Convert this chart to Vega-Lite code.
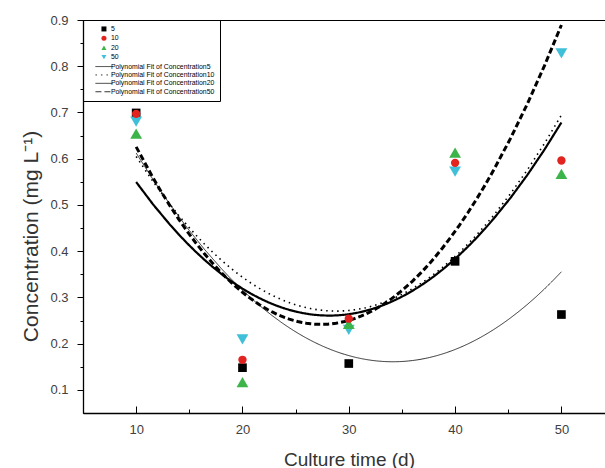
{
  "$schema": "https://vega.github.io/schema/vega-lite/v6.json",
  "width": 522,
  "height": 393,
  "autosize": {"type": "none"},
  "padding": {"left": 83, "top": 20, "right": 0, "bottom": 55},
  "background": "white",
  "config": {"view": {"stroke": "#000", "strokeWidth": 1}, "font": "Liberation Sans"},
  "data": {
    "values": [
      {"t": 10, "series": "5", "fit": "Polynomial Fit of Concentration5", "conc": 0.699},
      {"t": 20, "series": "5", "fit": "Polynomial Fit of Concentration5", "conc": 0.148},
      {"t": 30, "series": "5", "fit": "Polynomial Fit of Concentration5", "conc": 0.157},
      {"t": 40, "series": "5", "fit": "Polynomial Fit of Concentration5", "conc": 0.378},
      {"t": 50, "series": "5", "fit": "Polynomial Fit of Concentration5", "conc": 0.263},
      {"t": 10, "series": "50", "fit": "Polynomial Fit of Concentration50", "conc": 0.68},
      {"t": 20, "series": "50", "fit": "Polynomial Fit of Concentration50", "conc": 0.209},
      {"t": 30, "series": "50", "fit": "Polynomial Fit of Concentration50", "conc": 0.23},
      {"t": 40, "series": "50", "fit": "Polynomial Fit of Concentration50", "conc": 0.572},
      {"t": 50, "series": "50", "fit": "Polynomial Fit of Concentration50", "conc": 0.828},
      {"t": 10, "series": "20", "fit": "Polynomial Fit of Concentration20", "conc": 0.654},
      {"t": 20, "series": "20", "fit": "Polynomial Fit of Concentration20", "conc": 0.117},
      {"t": 30, "series": "20", "fit": "Polynomial Fit of Concentration20", "conc": 0.243},
      {"t": 40, "series": "20", "fit": "Polynomial Fit of Concentration20", "conc": 0.613},
      {"t": 50, "series": "20", "fit": "Polynomial Fit of Concentration20", "conc": 0.567},
      {"t": 10, "series": "10", "fit": "Polynomial Fit of Concentration10", "conc": 0.697},
      {"t": 20, "series": "10", "fit": "Polynomial Fit of Concentration10", "conc": 0.165},
      {"t": 30, "series": "10", "fit": "Polynomial Fit of Concentration10", "conc": 0.254},
      {"t": 40, "series": "10", "fit": "Polynomial Fit of Concentration10", "conc": 0.591},
      {"t": 50, "series": "10", "fit": "Polynomial Fit of Concentration10", "conc": 0.596}
    ]
  },
  "layer": [
    {
      "transform": [
        {"regression": "conc", "on": "t", "groupby": ["fit"], "method": "poly", "order": 2, "extent": [10, 50]}
      ],
      "mark": {"type": "line", "color": "black", "clip": true},
      "encoding": {
        "x": {
          "field": "t", "type": "quantitative",
          "scale": {"domain": [5, 54.1], "nice": false, "zero": false},
          "axis": null
        },
        "y": {
          "field": "conc", "type": "quantitative",
          "scale": {"domain": [0.05, 0.9], "nice": false, "zero": false},
          "axis": null
        },
        "strokeDash": {
          "field": "fit", "type": "nominal",
          "scale": {
            "domain": ["5", "10", "20", "50", "Polynomial Fit of Concentration5", "Polynomial Fit of Concentration10", "Polynomial Fit of Concentration20", "Polynomial Fit of Concentration50"],
            "range": [[0, 20], [0, 20], [0, 20], [0, 20], [1, 0], [1.5, 4], [1, 0], [6, 3]]
          }
        },
        "strokeWidth": {
          "field": "fit", "type": "nominal",
          "scale": {
            "type": "ordinal",
            "domain": ["Polynomial Fit of Concentration5", "Polynomial Fit of Concentration10", "Polynomial Fit of Concentration20", "Polynomial Fit of Concentration50"],
            "range": [0.8, 1.6, 2.2, 3]
          },
          "legend": null
        }
      }
    },
    {
      "mark": {"type": "point", "filled": true, "opacity": 1},
      "encoding": {
        "x": {
          "field": "t", "type": "quantitative",
          "scale": {"domain": [5, 54.1], "nice": false, "zero": false},
          "axis": {
            "orient": "bottom", "values": [10, 15, 20, 25, 30, 35, 40, 45, 50],
            "labelExpr": "datum.value % 10 === 0 ? datum.label : ''",
            "tickSize": {"condition": {"test": "datum.value % 10 === 0", "value": -7}, "value": -4},
            "tickColor": "#000", "domainColor": "#000", "domainWidth": 1.3, "grid": false,
            "labelFontSize": 13, "labelColor": "#404040", "labelPadding": 17,
            "title": "Culture time (d)", "titleFontSize": 19, "titleFontWeight": "normal", "titleColor": "#333", "titlePadding": 14, "titleX": 266
          }
        },
        "y": {
          "field": "conc", "type": "quantitative",
          "scale": {"domain": [0.05, 0.9], "nice": false, "zero": false},
          "axis": {
            "orient": "left",
            "values": [0.1, 0.15, 0.2, 0.25, 0.3, 0.35, 0.4, 0.45, 0.5, 0.55, 0.6, 0.65, 0.7, 0.75, 0.8, 0.85, 0.9],
            "format": ".1f",
            "labelExpr": "round(datum.value * 100) % 10 === 0 ? datum.label : ''",
            "tickSize": {"condition": {"test": "round(datum.value * 100) % 10 === 0", "value": 6}, "value": 3},
            "tickColor": "#000", "domainColor": "#000", "domainWidth": 1.3, "grid": false,
            "labelFontSize": 13, "labelColor": "#404040", "labelPadding": 9,
            "title": "Concentration (mg L⁻¹)", "titleFontSize": 21, "titleFontWeight": "normal", "titleColor": "#333", "titlePadding": 8,
            "titleAnchor": "middle", "titleAngle": -90, "titleAlign": "center", "titleY": 216
          }
        },
        "color": {
          "field": "series", "type": "nominal",
          "scale": {
            "domain": ["5", "10", "20", "50", "Polynomial Fit of Concentration5", "Polynomial Fit of Concentration10", "Polynomial Fit of Concentration20", "Polynomial Fit of Concentration50"],
            "range": ["#000000", "#e2231f", "#3cb44a", "#40c0d8", "#000000", "#000000", "#000000", "#000000"]
          },
          "legend": {
            "orient": "none", "legendX": 0, "legendY": 0, "title": null,
            "strokeColor": "#000", "padding": 5.5,
            "symbolSize": 25, "symbolOffset": 12, "symbolStrokeColor": "#000", "symbolStrokeWidth": 0.8,
            "labelFontSize": 6.9, "labelColor": "#000", "labelOffset": 3.5, "rowPadding": 0.4
          }
        },
        "shape": {
          "field": "series", "type": "nominal",
          "scale": {
            "domain": ["5", "10", "20", "50", "Polynomial Fit of Concentration5", "Polynomial Fit of Concentration10", "Polynomial Fit of Concentration20", "Polynomial Fit of Concentration50"],
            "range": ["square", "circle", "triangle-up", "triangle-down", "M-3.4,0H3.4", "M-3.4,0H3.4", "M-3.4,0H3.4", "M-3.4,0H3.4"]
          }
        },
        "size": {
          "field": "fit", "type": "nominal",
          "scale": {
            "type": "ordinal",
            "domain": ["Polynomial Fit of Concentration5", "Polynomial Fit of Concentration10", "Polynomial Fit of Concentration20", "Polynomial Fit of Concentration50"],
            "range": [75, 70, 140, 140]
          },
          "legend": null
        }
      }
    }
  ],
  "resolve": {"axis": {"x": "independent", "y": "independent"}}
}
